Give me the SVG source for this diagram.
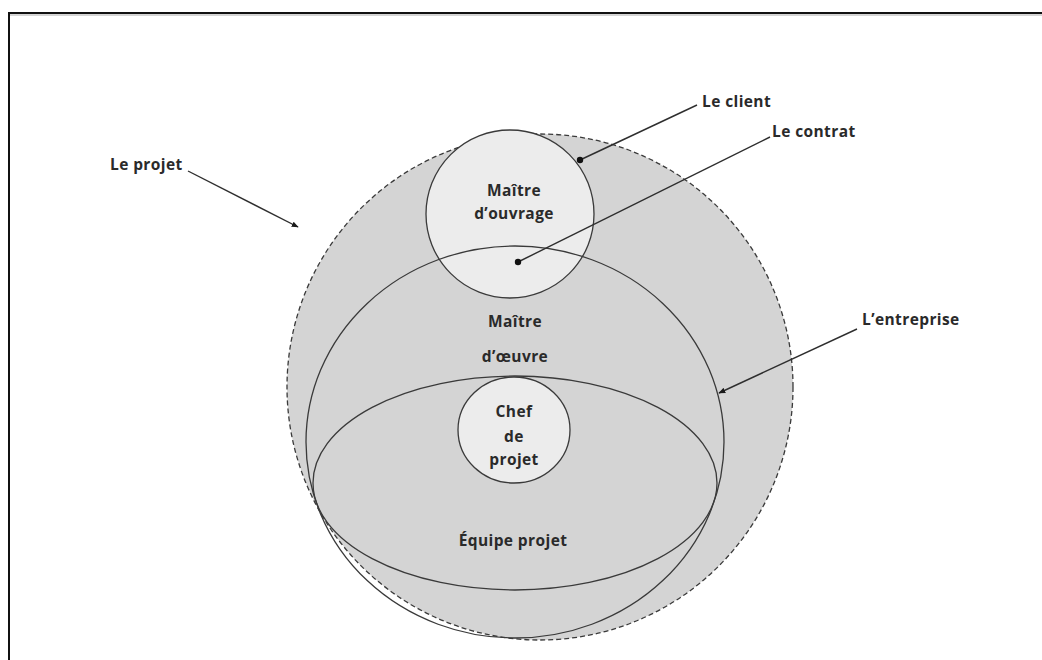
<svg xmlns="http://www.w3.org/2000/svg" width="1042" height="660" viewBox="0 0 1042 660">
  <defs>
    <style>
      .lbl { font-family: "Open Sans", "Liberation Sans", sans-serif; font-weight: 700; font-size: 15.5px; letter-spacing: 0.4px; fill: #2a2a2a; }
      .ctr { text-anchor: middle; }
      .ring { fill: none; stroke: #3a3a3a; stroke-width: 1.3; }
      .lead { stroke: #2e2e2e; stroke-width: 1.4; fill: none; }
    </style>
    <marker id="tip" viewBox="0 0 10 10" refX="9" refY="5" markerWidth="7" markerHeight="7" orient="auto" markerUnits="userSpaceOnUse">
      <path d="M0,1 L10,5 L0,9 Z" fill="#1a1a1a"/>
    </marker>
  </defs>

  <rect width="1042" height="660" fill="#ffffff"/>
  <!-- frame (top and left edges) -->
  <line x1="8" y1="13" x2="1042" y2="13" stroke="#111" stroke-width="2"/>
  <line x1="8" y1="15" x2="1042" y2="15" stroke="#aaa" stroke-width="1"/>
  <line x1="9" y1="12" x2="9" y2="660" stroke="#111" stroke-width="2"/>

  <g id="projet">
    <circle cx="540" cy="387" r="253" fill="#d4d4d4" stroke="#3a3a3a" stroke-width="1.3" stroke-dasharray="5 3"/>
  </g>

  <g id="maitre-ouvrage">
    <circle cx="510" cy="214" r="84" fill="#ececec" stroke="#3a3a3a" stroke-width="1.3"/>
    <text class="lbl ctr" x="514" y="196">Maître</text>
    <text class="lbl ctr" x="514" y="219">d’ouvrage</text>
  </g>

  <g id="maitre-oeuvre">
    <ellipse class="ring" cx="515" cy="442" rx="209" ry="196"/>
    <text class="lbl ctr" x="515" y="327">Maître</text>
    <text class="lbl ctr" x="515" y="362">d’œuvre</text>
  </g>

  <g id="equipe-projet">
    <ellipse class="ring" cx="515" cy="483" rx="202" ry="107"/>
    <text class="lbl ctr" x="513" y="546">Équipe projet</text>
  </g>

  <g id="chef-projet">
    <ellipse cx="514" cy="430" rx="56" ry="53" fill="#ececec" stroke="#3a3a3a" stroke-width="1.3"/>
    <text class="lbl ctr" x="514" y="417">Chef</text>
    <text class="lbl ctr" x="514" y="442">de</text>
    <text class="lbl ctr" x="514" y="465">projet</text>
  </g>

  <g id="labels">
    <text class="lbl" x="110" y="170">Le projet</text>
    <text class="lbl" x="702" y="107">Le client</text>
    <text class="lbl" x="772" y="137">Le contrat</text>
    <text class="lbl" x="862" y="325">L’entreprise</text>
  </g>

  <g id="connectors">
    <line class="lead" x1="188" y1="171" x2="298" y2="227" marker-end="url(#tip)"/>
    <line class="lead" x1="580" y1="160" x2="697" y2="105"/>
    <circle cx="580" cy="160" r="3.2" fill="#111"/>
    <line class="lead" x1="518" y1="262" x2="770" y2="137"/>
    <circle cx="518" cy="262" r="3.2" fill="#111"/>
    <line class="lead" x1="857" y1="329" x2="719" y2="393" marker-end="url(#tip)"/>
  </g>
</svg>
